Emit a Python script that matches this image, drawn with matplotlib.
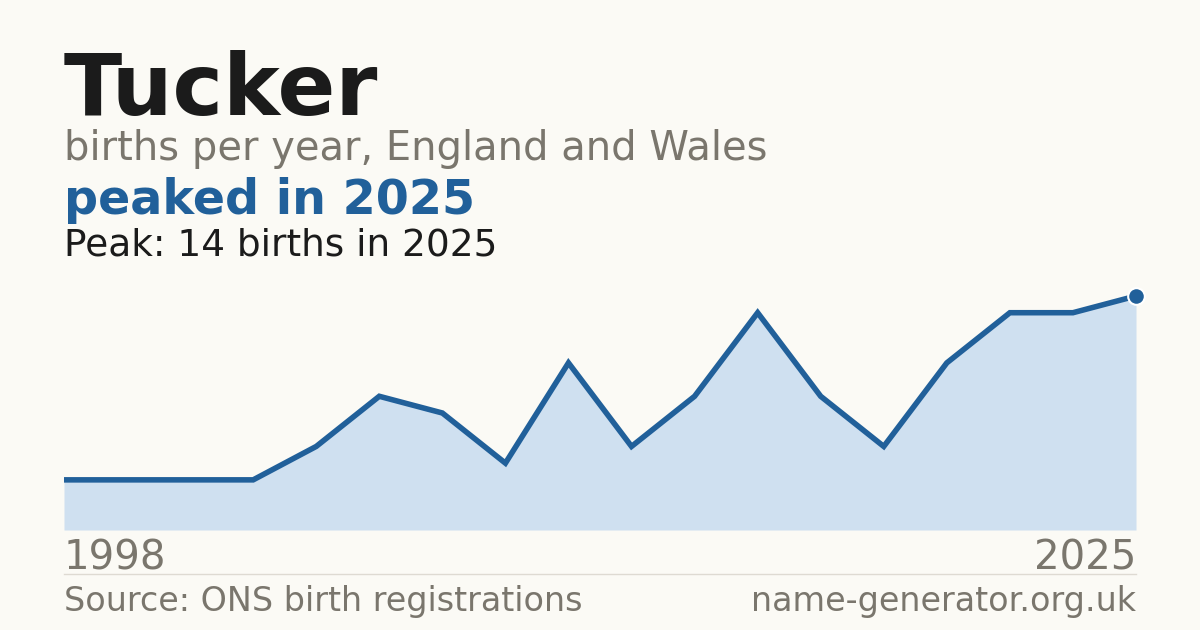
import matplotlib.pyplot as plt
import numpy as np

plt.rcParams['font.family'] = ['DejaVu Sans']

first_year = 1998
last_year = 2025
births = [3, 3, 3, 3, 5, 8, 7, 4, 10, 5, 8, 13, 8, 5, 10, 13, 13, 14]

bg = '#fbfaf5'
blue = '#21609a'
fill = '#cfe0f0'
grey = '#7a766d'
ink = '#1b1b1b'

W, H = 1200, 630
fig = plt.figure(figsize=(12, 6.3), dpi=100, facecolor=bg)

def fx(px):
    return px / W

def fy(py):
    return 1 - py / H

# chart area: 0 sits at y=530 px, peak (14) at y=296 px
ax = fig.add_axes([fx(64), fy(530), fx(1136) - fx(64), (530 - 270) / H])
ax.set_facecolor(bg)
x = np.arange(len(births))
top = 14 * 260 / 234
ax.fill_between(x, births, 0, color=fill, lw=0)
ax.plot(x, births, color=blue, lw=4.0, solid_capstyle='butt', solid_joinstyle='miter')
ax.plot(x[-1], births[-1], 'o', ms=12, color=blue, mec='white', mew=1.5, clip_on=False)
ax.set_xlim(x[0], x[-1])
ax.set_ylim(0, top)
ax.axis('off')

fig.text(fx(64), fy(115), 'Tucker', fontsize=61.5, fontweight='bold', color=ink)
fig.text(fx(64), fy(160), 'births per year, England and Wales', fontsize=28.8, color=grey)
fig.text(fx(64), fy(214), f'peaked in {last_year}', fontsize=34.3, fontweight='bold', color=blue)
fig.text(fx(64), fy(255), f'Peak: {max(births)} births in {last_year}', fontsize=27, color=ink)

fig.text(fx(64), fy(570), str(first_year), fontsize=29, color=grey)
fig.text(fx(1136), fy(570), str(last_year), fontsize=29, color=grey, ha='right')
fig.add_artist(plt.Line2D([fx(64), fx(1136)], [fy(574), fy(574)], color='#dedad2', lw=1))
fig.text(fx(64), fy(611), 'Source: ONS birth registrations', fontsize=24, color=grey)
fig.text(fx(1136), fy(611), 'name-generator.org.uk', fontsize=24, color=grey, ha='right')

fig.savefig('out.png', dpi=100, facecolor=bg)
